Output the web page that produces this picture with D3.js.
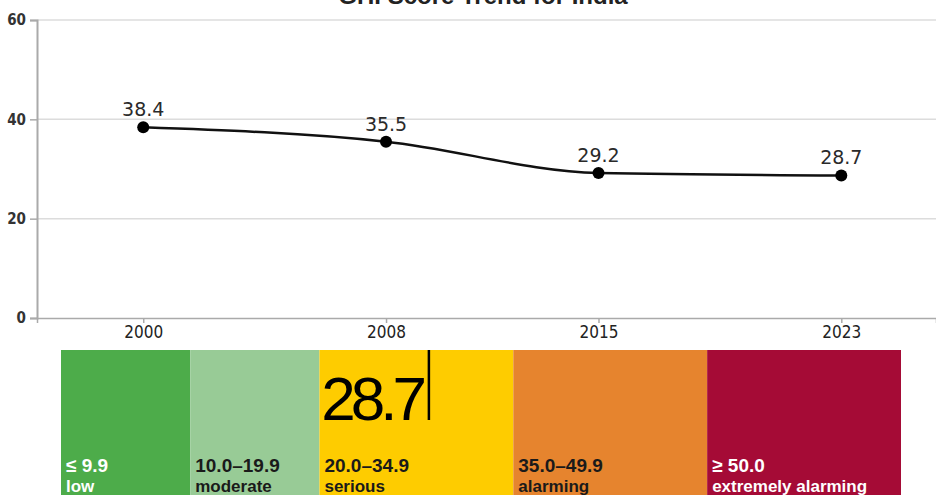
<!DOCTYPE html>
<html>
<head>
<meta charset="utf-8">
<script src="https://cdn.jsdelivr.net/npm/d3@7"></script>
<style>
  body { margin: 0; background: #fff; }
  svg { display: block; }
</style>
</head>
<body>
<script>
// GHI score trend for India
var years = [2000, 2008, 2015, 2023];
var scores = [38.4, 35.5, 29.2, 28.7];
var yTicks = [0, 20, 40, 60];

// severity scale bands
var bandStarts = [0, 10, 20, 35, 50];
var bandEnds = [10, 20, 35, 50, 65];
var bandRanges = ["\u2264 9.9", "10.0\u201319.9", "20.0\u201334.9", "35.0\u201349.9", "\u2265 50.0"];
var bandNames = ["low", "moderate", "serious", "alarming", "extremely alarming"];
var bandColors = ["#4dac4a", "#98cb96", "#fecc00", "#e6842e", "#a50b36"];
var bandText = ["#fff", "#1a1a1a", "#1a1a1a", "#1a1a1a", "#fff"];
var latest = 28.7;

var width = 936, height = 495;

var svg = d3.select("body").append("svg")
    .attr("width", width)
    .attr("height", height);

var x = d3.scaleLinear()
    .domain([1996.5, 2026.12])
    .range([37, 936]);
var y = d3.scaleLinear()
    .domain([0, 60])
    .range([318, 20]);

// title (cut off at the top, as in the original)
svg.append("text")
    .attr("x", 483)
    .attr("y", 4)
    .attr("text-anchor", "middle")
    .style("font-family", "Liberation Sans, Arial, sans-serif")
    .style("font-weight", "bold")
    .style("font-size", "24px")
    .attr("fill", "#222")
    .text("GHI Score Trend for India");

// gridlines
svg.append("g").selectAll("line")
    .data(yTicks.filter(function(d) { return d > 0; }))
    .enter().append("line")
    .attr("x1", 37).attr("x2", width)
    .attr("y1", function(d) { return y(d); })
    .attr("y2", function(d) { return y(d); })
    .attr("stroke", "#dcdcdc")
    .attr("stroke-width", 1.5);

// y axis
var yAxis = svg.append("g")
    .attr("transform", "translate(37,0)")
    .call(d3.axisLeft(y).tickValues(yTicks).tickSize(7).tickPadding(4));
yAxis.select(".domain").attr("stroke", "#aaa").attr("stroke-width", 2);
yAxis.selectAll(".tick line").attr("stroke", "#aaa").attr("stroke-width", 1.5);
yAxis.selectAll("text")
    .style("font-family", "DejaVu Sans Condensed, DejaVu Sans, sans-serif")
    .style("font-size", "15px")
    .style("font-weight", "bold")
    .attr("fill", "#333");

// x axis
var xAxis = svg.append("g")
    .attr("transform", "translate(0,318)")
    .call(d3.axisBottom(x).tickValues(years).tickFormat(d3.format("d")).tickSizeOuter(0).tickSize(5).tickPadding(3));
xAxis.select(".domain").attr("stroke", "#aaa").attr("stroke-width", 1.5);
xAxis.selectAll(".tick line").attr("stroke", "#aaa").attr("stroke-width", 1.5);
xAxis.selectAll("text")
    .style("font-family", "DejaVu Sans Condensed, DejaVu Sans, sans-serif")
    .style("font-size", "17px")
    .attr("fill", "#222");

// trend line
var pts = years.map(function(d, i) { return [d, scores[i]]; });
var line = d3.line()
    .x(function(d) { return x(d[0]); })
    .y(function(d) { return y(d[1]); })
    .curve(d3.curveMonotoneX);

svg.append("path")
    .datum(pts)
    .attr("d", line)
    .attr("fill", "none")
    .attr("stroke", "#111")
    .attr("stroke-width", 2.5);

svg.append("g").selectAll("circle")
    .data(pts)
    .enter().append("circle")
    .attr("cx", function(d) { return x(d[0]); })
    .attr("cy", function(d) { return y(d[1]); })
    .attr("r", 6)
    .attr("fill", "#000");

svg.append("g").selectAll("text")
    .data(pts)
    .enter().append("text")
    .attr("x", function(d) { return x(d[0]); })
    .attr("y", function(d) { return y(d[1]) - 11; })
    .attr("text-anchor", "middle")
    .style("font-family", "DejaVu Sans, sans-serif")
    .style("font-size", "19px")
    .attr("fill", "#2a2a2a")
    .text(function(d) { return d[1].toFixed(1); });

// severity scale
var s = d3.scaleLinear().domain([0, 65]).range([61, 901]);
var band = svg.append("g");

band.selectAll("rect")
    .data(bandStarts)
    .enter().append("rect")
    .attr("x", function(d) { return s(d); })
    .attr("y", 350)
    .attr("width", function(d, i) { return s(bandEnds[i]) - s(d); })
    .attr("height", 150)
    .attr("fill", function(d, i) { return bandColors[i]; });

// range on first line, name on second
band.selectAll("text.range")
    .data(bandStarts)
    .enter().append("text")
    .attr("class", "range")
    .attr("x", function(d) { return s(d) + 5; })
    .attr("y", 472)
    .style("font-family", "Liberation Sans, Arial, sans-serif")
    .style("font-weight", "bold")
    .style("font-size", "19px")
    .attr("fill", function(d, i) { return bandText[i]; })
    .text(function(d, i) { return bandRanges[i]; });

band.selectAll("text.name")
    .data(bandStarts)
    .enter().append("text")
    .attr("class", "name")
    .attr("x", function(d) { return s(d) + 5; })
    .attr("y", 492)
    .style("font-family", "Liberation Sans, Arial, sans-serif")
    .style("font-weight", "bold")
    .style("font-size", "17px")
    .attr("fill", function(d, i) { return bandText[i]; })
    .text(function(d, i) { return bandNames[i]; });

// current value marker
band.append("line")
    .attr("x1", s(latest) - 3).attr("x2", s(latest) - 3)
    .attr("y1", 350).attr("y2", 420)
    .attr("stroke", "#000")
    .attr("stroke-width", 2.5);

band.append("text")
    .attr("x", s(latest) - 10)
    .attr("y", 420)
    .attr("text-anchor", "end")
    .style("font-family", "Liberation Sans, Arial, sans-serif")
    .style("font-size", "62px")
    .style("letter-spacing", "-5px")
    .attr("fill", "#000")
    .text(latest.toFixed(1));
</script>
</body>
</html>
